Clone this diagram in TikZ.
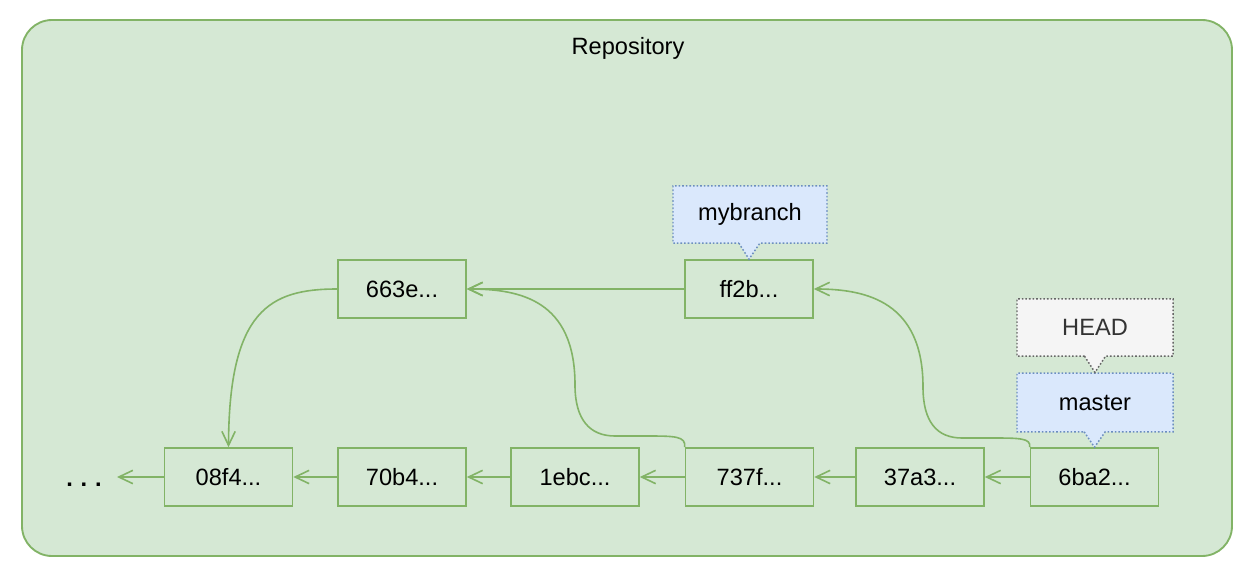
\documentclass[tikz,border=0pt]{standalone}
\usepackage{fontspec}
\setmainfont{Liberation Sans}
\usetikzlibrary{arrows.meta,shapes.callouts}
\definecolor{gfill}{HTML}{D5E8D4}
\definecolor{gline}{HTML}{82B366}
\definecolor{bfill}{HTML}{DAE8FC}
\definecolor{bline}{HTML}{6C8EBF}
\definecolor{hfill}{HTML}{F5F5F5}
\definecolor{hline}{HTML}{666666}
\definecolor{htext}{HTML}{333333}
\tikzset{
  lbl/.style={font=\fontsize{17.7}{21}\selectfont},
  commit/.style={lbl, draw=gline, fill=gfill, line width=1.2pt, minimum width=96pt, minimum height=43.5pt, inner sep=0pt},
  repobox/.style={draw=gline, fill=gfill, line width=1.4pt, rounded corners=22.5pt, minimum width=907.5pt, minimum height=402pt, inner sep=0pt},
  refbox/.style={lbl, rectangle callout, draw=bline, fill=bfill, line width=1.1pt, dash pattern=on 1.2pt off 1.5pt, minimum width=116pt, minimum height=43pt, inner sep=0pt, callout pointer width=15.75pt},
  headbox/.style={refbox, draw=hline, fill=hfill, text=htext},
  link/.style={draw=gline, line width=1.2pt, -{Straight Barb[length=10.5pt,width=10pt]}},
}
\begin{document}
\begin{tikzpicture}[x=0.75pt, y=-0.75pt]
\useasboundingbox (0,0) rectangle (1248,574);
\node[repobox] (repo) at (627,288) {};
\node[lbl] (title) at (628,48.5) {Repository};

\node[commit] (c663e) at (402,289) {663e...};
\node[commit] (cff2b) at (749,289) {ff2b...};
\node[commit] (c08f4) at (228.5,477) {08f4...};
\node[commit] (c70b4) at (402,477) {70b4...};
\node[commit] (c1ebc) at (575,477) {1ebc...};
\node[commit] (c737f) at (749.5,477) {737f...};
\node[commit] (c37a3) at (920,477) {37a3...};
\node[commit] (c6ba2) at (1094.5,477) {6ba2...};

\node[lbl, anchor=base] (dots) at (84,486) {\textbf{.}\,\,\textbf{.}\,\,\textbf{.}};
\coordinate (dotsend) at (117,477);

\node[refbox, minimum width=115.5pt, callout absolute pointer={(cff2b.north)}] (mybranch) at (750,214.5) {mybranch};
\node[refbox, minimum width=117pt, minimum height=44pt, callout absolute pointer={(c6ba2.north)}] (master) at (1095,402.5) {master};
\node[headbox, minimum width=117pt, callout absolute pointer={(master.north)}] (head) at (1095,327.5) {HEAD};

\draw[link] (c08f4.west) -- (dotsend);
\draw[link] (c70b4.west) -- (c08f4.east);
\draw[link] (c1ebc.west) -- (c70b4.east);
\draw[link] (c737f.west) -- (c1ebc.east);
\draw[link] (c37a3.west) -- (c737f.east);
\draw[link] (c6ba2.west) -- (c37a3.east);
\draw[link] (cff2b.west) -- (c663e.east);

\draw[link] (c663e.west) .. controls (270,289) and (229,310) .. (c08f4.north);

\draw[link] (c737f.north west) .. controls (686,436) and (675,436) .. (645,436) -- (615,436)
  .. controls (590,436) and (575,420) .. (575,385)
  .. controls (575,300) and (520,289) .. (c663e.east);

\draw[link] (c6ba2.north west) .. controls (1031,438) and (1020,438) .. (990,438) -- (962,438)
  .. controls (937,438) and (923,422) .. (923,387)
  .. controls (923,302) and (867,289) .. (cff2b.east);
\end{tikzpicture}
\end{document}
